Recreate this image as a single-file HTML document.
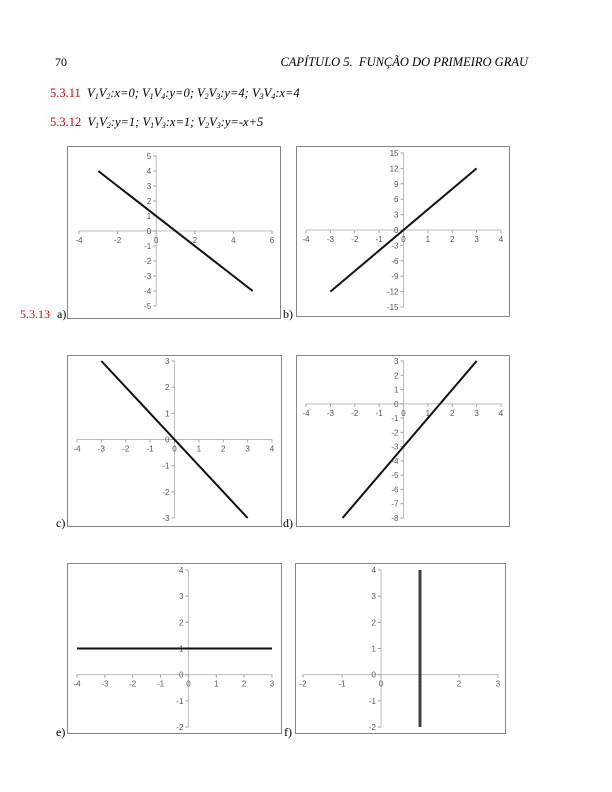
<!DOCTYPE html>
<html><head><meta charset="utf-8">
<style>
html,body{margin:0;padding:0;background:#fff;}
#page{position:relative;width:612px;height:792px;overflow:hidden;font-family:"Liberation Serif",serif;}
.t{position:absolute;font-size:12px;color:#000;white-space:nowrap;}
.r{color:#e00000;}
i{font-style:italic;}
sub{font-size:8px;vertical-align:-2px;}
</style></head>
<body>
<div id="page">
<div class="t" style="left:55px;top:55px">70</div>
<div class="t" style="right:84px;top:55px;font-style:italic;font-size:12.5px">CAPÍTULO 5.&nbsp; FUNÇÃO DO PRIMEIRO GRAU</div>
<div class="t" style="left:50px;top:86px;font-size:12.5px"><span class="r">5.3.11</span>&nbsp; <i>V<sub>1</sub>V<sub>2</sub>:x=0; V<sub>1</sub>V<sub>4</sub>:y=0; V<sub>2</sub>V<sub>3</sub>:y=4; V<sub>3</sub>V<sub>4</sub>:x=4</i></div>
<div class="t" style="left:50px;top:115px;font-size:12.5px"><span class="r">5.3.12</span>&nbsp; <i>V<sub>1</sub>V<sub>2</sub>:y=1; V<sub>1</sub>V<sub>3</sub>:x=1; V<sub>2</sub>V<sub>3</sub>:y=-x+5</i></div>
<div class="t r" style="left:20px;top:307px">5.3.13</div>
<div class="t" style="left:57px;top:307px">a)</div>
<div class="t" style="left:283px;top:307px">b)</div>
<div class="t" style="left:56px;top:516px">c)</div>
<div class="t" style="left:283px;top:516px">d)</div>
<div class="t" style="left:56px;top:725px">e)</div>
<div class="t" style="left:284px;top:725px">f)</div>
<svg id="svg" width="612" height="792" style="position:absolute;left:0;top:0"></svg>
</div>
<script>
// Chart a
const aXTicks=[-4,-2,0,2,4,6];
const aYTicks=[-5,-4,-3,-2,-1,0,1,2,3,4,5];
const aLineX=[-3,5];
const aLineY=[4,-4];
// Chart b
const bXTicks=[-4,-3,-2,-1,0,1,2,3,4];
const bYTicks=[-15,-12,-9,-6,-3,0,3,6,9,12,15];
const bLineX=[-3,3];
const bLineY=[-12,12];
// Chart c
const cXTicks=[-4,-3,-2,-1,0,1,2,3,4];
const cYTicks=[-3,-2,-1,0,1,2,3];
const cLineX=[-3,3];
const cLineY=[3,-3];
// Chart d
const dXTicks=[-4,-3,-2,-1,0,1,2,3,4];
const dYTicks=[-8,-7,-6,-5,-4,-3,-2,-1,0,1,2,3];
const dLineX=[-2.5,3];
const dLineY=[-8,3];
// Chart e
const eXTicks=[-4,-3,-2,-1,0,1,2,3];
const eYTicks=[-2,-1,0,1,2,3,4];
const eLineX=[-4,3];
const eLineY=[1,1];
// Chart f
const fXTicks=[-2,-1,0,1,2,3];
const fYTicks=[-2,-1,0,1,2,3,4];
const fLineX=[1,1];
const fLineY=[-2,4];

const NS="http://www.w3.org/2000/svg";
const svg=document.getElementById('svg');
function mk(tag,attrs,parent){const e=document.createElementNS(NS,tag);for(const k in attrs)e.setAttribute(k,attrs[k]);parent.appendChild(e);return e;}

function chart(id,box,px,py,xt,yt,lx,ly,lw,lc){
  const g=mk('g',{},svg);
  
  
  const fr=mk('rect',{x:box[0]+0.5,y:box[1]+0.5,width:box[2]-box[0],height:box[3]-box[1],fill:'#fff',stroke:'#868686','stroke-width':1},g);
  
  
  const xmin=xt[0],xmax=xt[xt.length-1],ymin=yt[0],ymax=yt[yt.length-1];
  const sx=v=>px[0]+(v-xmin)/(xmax-xmin)*(px[1]-px[0]);
  const sy=v=>py[0]+(ymax-v)/(ymax-ymin)*(py[1]-py[0]);
  const x0=sx(0),y0=sy(0);
  const xa=mk('line',{x1:px[0],x2:px[1],y1:y0,y2:y0,stroke:'#bdbdbd','stroke-width':1},g);
  
  
  const ya=mk('line',{x1:x0,x2:x0,y1:py[0],y2:py[1],stroke:'#bdbdbd','stroke-width':1},g);
  
  
  xt.forEach(v=>{
    mk('line',{x1:sx(v),x2:sx(v),y1:y0,y2:y0+3,stroke:'#a0a0a0'},g);
    const t=mk('text',{x:sx(v),y:y0+12,'text-anchor':'middle','font-size':8,fill:'#555','font-family':'Liberation Sans, sans-serif'},g);
    t.textContent=String(v);
    
    
  });
  yt.forEach(v=>{
    mk('line',{x1:x0-3,x2:x0,y1:sy(v),y2:sy(v),stroke:'#a0a0a0'},g);
    const t=mk('text',{x:x0-5,y:sy(v)+3,'text-anchor':'end','font-size':8,fill:'#555','font-family':'Liberation Sans, sans-serif'},g);
    t.textContent=String(v);
    
    
  });
  const ln=mk('line',{x1:sx(lx[0]),y1:sy(ly[0]),x2:sx(lx[1]),y2:sy(ly[1]),stroke:lc,'stroke-width':lw},g);
  
  
}
chart('a',[67,146,280,318],[79,272],[156,306],aXTicks,aYTicks,aLineX,aLineY,2,'#111');
chart('b',[296,146,509,316],[306,501],[153,307],bXTicks,bYTicks,bLineX,bLineY,2,'#111');
chart('c',[67,355,281,526],[77,272],[361,518],cXTicks,cYTicks,cLineX,cLineY,2,'#111');
chart('d',[296,355,509,526],[306,501],[361,518],dXTicks,dYTicks,dLineX,dLineY,2,'#111');
chart('e',[67,563,281,733],[77,272],[570,727],eXTicks,eYTicks,eLineX,eLineY,2,'#111');
chart('f',[295,563,505,733],[303,498],[570,727],fXTicks,fYTicks,fLineX,fLineY,3,'#404040');
</script>
</body></html>
